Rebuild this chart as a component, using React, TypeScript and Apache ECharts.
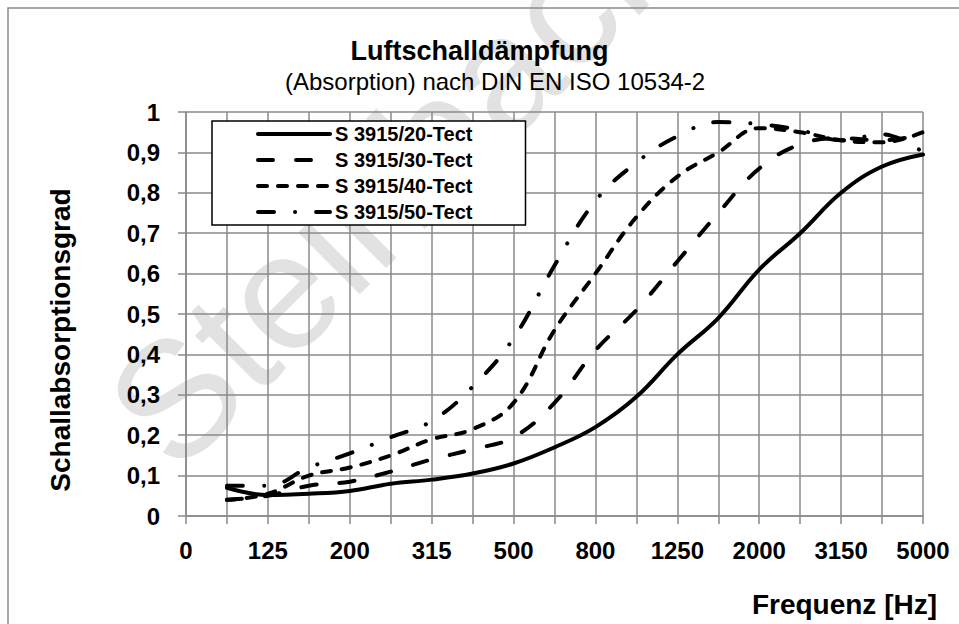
import React, { useEffect, useRef } from "react";
import * as echarts from "echarts";

const categories = ["0", "100", "125", "160", "200", "250", "315", "400", "500", "630", "800", "1000", "1250", "1600", "2000", "2500", "3150", "4000", "5000"];
const seriesNames = ["S 3915/20-Tect", "S 3915/30-Tect", "S 3915/40-Tect", "S 3915/50-Tect"];
const s20 = [null, 0.07, 0.052, 0.055, 0.062, 0.08, 0.09, 0.105, 0.13, 0.17, 0.22, 0.295, 0.4, 0.49, 0.61, 0.7, 0.8, 0.865, 0.895];
const s30 = [null, 0.04, 0.05, 0.075, 0.085, 0.11, 0.14, 0.165, 0.195, 0.28, 0.41, 0.51, 0.63, 0.75, 0.86, 0.92, 0.935, 0.93, 0.945];
const s40 = [null, 0.04, 0.055, 0.1, 0.12, 0.15, 0.19, 0.215, 0.28, 0.46, 0.6, 0.74, 0.84, 0.9, 0.96, 0.95, 0.93, 0.925, 0.95];
const s50 = [null, 0.075, 0.075, 0.12, 0.155, 0.195, 0.235, 0.32, 0.44, 0.62, 0.78, 0.875, 0.94, 0.975, 0.97, 0.955, 0.93, 0.945, 0.9];

const FONT = "Liberation Sans, Arial, sans-serif";
const GRID = "#8a8a8a";

export default function App() {
  const ref = useRef<HTMLDivElement>(null);
  useEffect(() => {
    if (!ref.current) return;
    const chart = echarts.init(ref.current, undefined, { renderer: "svg" });
    const dashes: any[] = ["solid", [15, 23], [9, 11], [16, 21, 0.1, 21]];
    const data = [s20, s30, s40, s50];
    chart.setOption({
      animation: false,
      backgroundColor: "#ffffff",
      textStyle: { fontFamily: FONT },
      title: [
        { text: "Luftschalldämpfung", left: "center", top: 32, textStyle: { fontFamily: FONT, fontSize: 27, fontWeight: "bold", color: "#000" } },
        { text: "(Absorption) nach DIN EN ISO 10534-2", left: 280, top: 64, textStyle: { fontFamily: FONT, fontSize: 24, fontWeight: "normal", color: "#000" } },
      ],
      graphic: [
        { type: "rect", z: 0, shape: { x: 8, y: 8, width: 980, height: 640 }, style: { fill: "none", stroke: GRID, lineWidth: 1.5 } },
        { type: "text", z: -1, x: 195, y: 495, rotation: Math.PI / 4, style: { text: "Steinbach", font: "165px " + FONT, fill: "#e2e2e2", align: "left", verticalAlign: "bottom" } },
        { type: "text", z: 10, x: 60, y: 340, rotation: Math.PI / 2, style: { text: "Schallabsorptionsgrad", font: "bold 28px " + FONT, fill: "#000", align: "center", verticalAlign: "middle" } },
        { type: "text", z: 10, right: 22, top: 590, style: { text: "Frequenz [Hz]", font: "bold 28px " + FONT, fill: "#000" } },
      ],
      legend: {
        orient: "vertical",
        left: 212,
        top: 121,
        padding: [3, 53, 3, 44],
        itemWidth: 72,
        itemHeight: 20,
        itemGap: 6,
        backgroundColor: "#fff",
        borderColor: "#000",
        borderWidth: 1.5,
        itemStyle: { color: "rgba(0,0,0,0)", borderWidth: 0, opacity: 0 },
        lineStyle: { width: 4, cap: "round" },
        textStyle: { fontFamily: FONT, fontSize: 20, fontWeight: "bold", color: "#000" },
        data: seriesNames,
        z: 20,
      },
      grid: { left: 186, right: 36, top: 112, bottom: 108, containLabel: false },
      xAxis: {
        type: "category",
        data: categories,
        boundaryGap: false,
        axisLine: { lineStyle: { color: GRID, width: 1.5 } },
        axisTick: { show: true, interval: 0, length: 8, lineStyle: { color: GRID, width: 1.5 } },
        axisLabel: { interval: 1, margin: 22, fontFamily: FONT, fontSize: 24, fontWeight: "bold", color: "#000" },
        splitLine: { show: true, interval: 0, lineStyle: { color: GRID, width: 1.5 } },
      },
      yAxis: {
        type: "value",
        min: 0,
        max: 1,
        interval: 0.1,
        axisLine: { show: true, lineStyle: { color: GRID, width: 1.5 } },
        axisTick: { show: true, length: 8, lineStyle: { color: GRID, width: 1.5 } },
        axisLabel: {
          margin: 26,
          fontFamily: FONT,
          fontSize: 24,
          fontWeight: "bold",
          color: "#000",
          formatter: (v: number) => (v === 0 ? "0" : Math.abs(v - 1) < 1e-9 ? "1" : v.toFixed(1).replace(".", ",")),
        },
        splitLine: { show: true, lineStyle: { color: GRID, width: 1.5 } },
      },
      series: seriesNames.map((name, k) => ({
        name,
        type: "line",
        data: data[k],
        smooth: 0.4,
        symbol: "none",
        connectNulls: false,
        z: 5 + k,
        lineStyle: { color: "#000", width: 4, type: dashes[k], cap: "round", join: "round" },
        itemStyle: { color: "#000" },
      })),
    });
    return () => chart.dispose();
  }, []);
  return <div ref={ref} style={{ position: "fixed", left: 0, top: 0, width: 959, height: 624 }} />;
}
